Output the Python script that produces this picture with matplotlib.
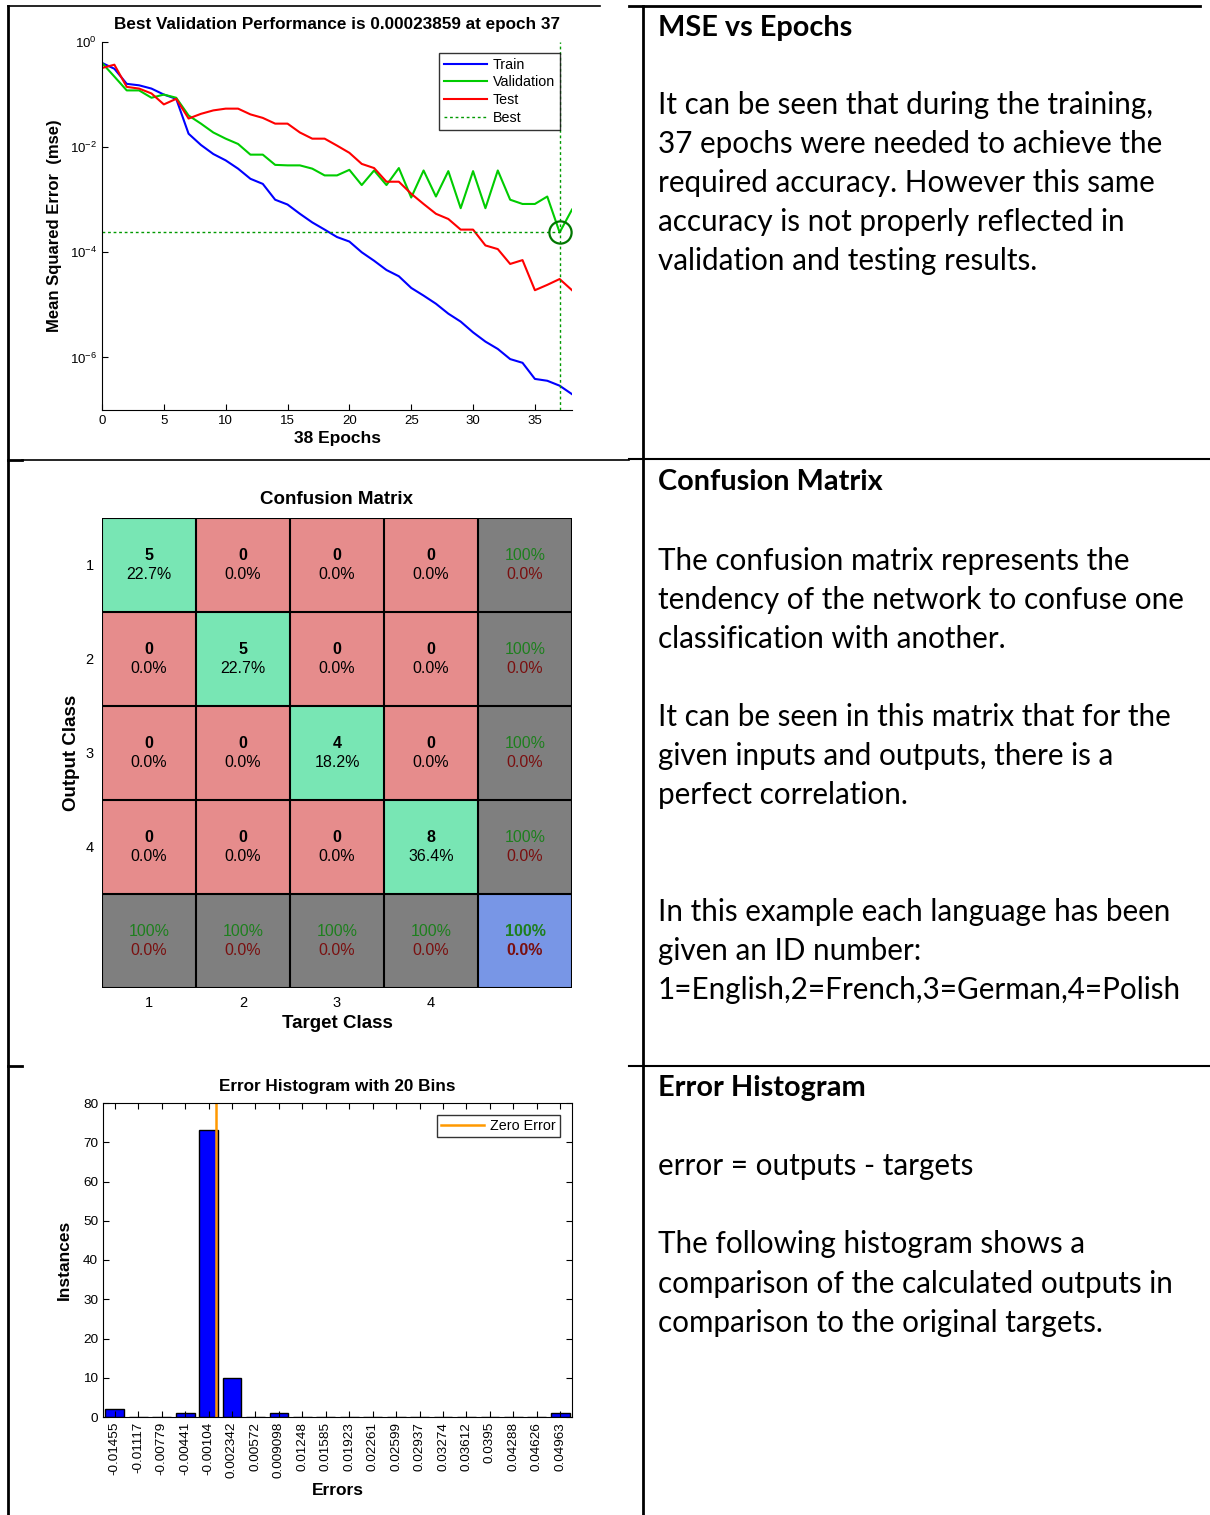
import matplotlib.pyplot as plt
import numpy as np
from matplotlib.lines import Line2D

# ---- data: performance curve (MSE per epoch) ----
epochs = np.arange(39)
train_mse = [0.40, 0.31, 0.16, 0.15, 0.13, 0.10, 0.083, 0.018, 0.011, 0.0074,
             0.0056, 0.0039, 0.0025, 0.0020, 1.0e-3, 8.1e-4, 5.4e-4, 3.7e-4, 2.7e-4, 1.95e-4,
             1.6e-4, 1.0e-4, 6.9e-5, 4.6e-5, 3.5e-5, 2.1e-5, 1.5e-5, 1.05e-5, 6.8e-6, 4.8e-6,
             3.0e-6, 2.0e-6, 1.45e-6, 9.3e-7, 7.9e-7, 3.9e-7, 3.6e-7, 2.9e-7, 2.0e-7]
val_mse = [0.40, 0.22, 0.12, 0.12, 0.087, 0.10, 0.087, 0.040, 0.028, 0.019,
           0.0145, 0.0115, 0.0072, 0.0072, 0.0046, 0.0045, 0.0045, 0.0039, 0.0029, 0.0029,
           0.0037, 0.0019, 0.0036, 0.0019, 0.0040, 0.0011, 0.0036, 0.00115, 0.0035, 0.00069,
           0.0035, 0.00069, 0.0036, 0.0010, 0.00083, 0.00083, 0.00115, 0.00023859, 0.00065]
test_mse = [0.32, 0.37, 0.14, 0.13, 0.105, 0.065, 0.083, 0.035, 0.043, 0.050,
            0.054, 0.054, 0.042, 0.036, 0.028, 0.028, 0.019, 0.0145, 0.0145, 0.0107,
            0.0078, 0.0048, 0.0040, 0.0022, 0.0022, 0.0013, 0.00083, 0.00054, 0.00043, 0.00027,
            0.00027, 0.000135, 0.000115, 6.0e-5, 7.1e-5, 1.9e-5, 2.4e-5, 3.1e-5, 1.9e-5]
best_epoch = 37
best_mse = 0.00023859

# ---- data: confusion matrix ----
classes = ['1', '2', '3', '4']
conf = np.array([[5, 0, 0, 0],
                 [0, 5, 0, 0],
                 [0, 0, 4, 0],
                 [0, 0, 0, 8]])

# ---- data: error histogram ----
bin_labels = ['-0.01455', '-0.01117', '-0.00779', '-0.00441', '-0.00104', '0.002342',
              '0.00572', '0.009098', '0.01248', '0.01585', '0.01923', '0.02261',
              '0.02599', '0.02937', '0.03274', '0.03612', '0.0395', '0.04288',
              '0.04626', '0.04963']
bin_counts = [2, 0, 0, 1, 73, 10, 0, 1, 0, 0, 0, 0, 0, 0, 0, 0, 0, 0, 0, 1]

W, H = 1210, 1515
fig = plt.figure(figsize=(W / 100, H / 100), dpi=100)
plt.rcParams['font.family'] = ['Liberation Sans', 'DejaVu Sans']


def box(l, t, r, b):
    # pixel box (top-left origin) -> figure fraction
    return [l / W, 1 - b / H, (r - l) / W, (b - t) / H]


# ---------- panel 1: performance ----------
ax1 = fig.add_axes(box(102, 42, 572, 410))
ax1.semilogy(epochs, train_mse, color='#0000ff', lw=1.5, label='Train')
ax1.semilogy(epochs, val_mse, color='#00cc00', lw=1.5, label='Validation')
ax1.semilogy(epochs, test_mse, color='#ff0000', lw=1.5, label='Test')
ax1.axhline(best_mse, xmax=best_epoch / 38, color='#009900', ls=(0, (2, 2)), lw=1, label='Best')
ax1.axvline(best_epoch, color='#009900', ls=(0, (2, 2)), lw=1)
ax1.plot(best_epoch, best_mse, 'o', ms=16, mfc='none', mec='#007700', mew=1.6)
ax1.set_xlim(0, 38)
ax1.set_ylim(1e-7, 1)
ax1.set_xticks(np.arange(0, 36, 5))
ax1.set_yticks([1, 1e-2, 1e-4, 1e-6])
ax1.minorticks_off()
ax1.tick_params(direction='in', length=4, labelsize=9.5)
ax1.spines['top'].set_visible(False)
ax1.spines['right'].set_visible(False)
ax1.set_title('Best Validation Performance is 0.00023859 at epoch 37',
              fontsize=12.3, fontweight='bold', pad=9)
ax1.set_xlabel('38 Epochs', fontsize=12.5, fontweight='bold', labelpad=3)
ax1.set_ylabel('Mean Squared Error  (mse)', fontsize=12, fontweight='bold', labelpad=6)
leg = ax1.legend(loc='upper right', bbox_to_anchor=(0.99, 0.99), fontsize=10.3,
                 frameon=True, fancybox=False, edgecolor='black', handlelength=3.0,
                 borderpad=0.35, labelspacing=0.25, handletextpad=0.4)
leg.get_frame().set_linewidth(1)

# ---------- panel 2: confusion matrix ----------
ax2 = fig.add_axes(box(102, 518, 572, 988))
green = np.array([120, 230, 180]) / 255
red = np.array([230, 140, 140]) / 255
gray = np.array([0.5, 0.5, 0.5])
blue = np.array([120, 150, 230]) / 255
n = len(classes)
img = np.zeros((n + 1, n + 1, 3))
for i in range(n + 1):
    for j in range(n + 1):
        if i == n and j == n:
            img[i, j] = blue
        elif i == n or j == n:
            img[i, j] = gray
        elif i == j:
            img[i, j] = green
        else:
            img[i, j] = red
ax2.imshow(img, extent=(-0.5, n + 0.5, n + 0.5, -0.5), aspect='auto')
for k in range(n + 2):
    ax2.axhline(k - 0.5, color='black', lw=1.5)
    ax2.axvline(k - 0.5, color='black', lw=1.5)
total = conf.sum()
fs = 11.5
for i in range(n):
    for j in range(n):
        ax2.text(j, i - 0.105, str(conf[i, j]), ha='center', va='center',
                 fontsize=fs, fontweight='bold')
        ax2.text(j, i + 0.105, '%.1f%%' % (100 * conf[i, j] / total), ha='center',
                 va='center', fontsize=fs)
for i in range(n):
    ok = conf[i, i] / conf[i].sum()
    ax2.text(n, i - 0.105, '%d%%' % (100 * ok), ha='center', va='center', fontsize=fs, color='#1e7f1e')
    ax2.text(n, i + 0.105, '%.1f%%' % (100 * (1 - ok)), ha='center', va='center', fontsize=fs, color='#7a1010')
for j in range(n):
    ok = conf[j, j] / conf[:, j].sum()
    ax2.text(j, n - 0.105, '%d%%' % (100 * ok), ha='center', va='center', fontsize=fs, color='#1e7f1e')
    ax2.text(j, n + 0.105, '%.1f%%' % (100 * (1 - ok)), ha='center', va='center', fontsize=fs, color='#7a1010')
acc = np.trace(conf) / total
ax2.text(n, n - 0.105, '%d%%' % (100 * acc), ha='center', va='center', fontsize=fs,
         fontweight='bold', color='#1e7f1e')
ax2.text(n, n + 0.105, '%.1f%%' % (100 * (1 - acc)), ha='center', va='center', fontsize=fs,
         fontweight='bold', color='#7a1010')
ax2.set_xticks(range(n))
ax2.set_xticklabels(classes)
ax2.set_yticks(range(n))
ax2.set_yticklabels(classes)
ax2.tick_params(length=0, labelsize=10.5, pad=6)
for s in ax2.spines.values():
    s.set_visible(False)
ax2.set_title('Confusion Matrix', fontsize=13.5, fontweight='bold', pad=10)
ax2.set_xlabel('Target Class', fontsize=13.5, fontweight='bold', labelpad=3)
ax2.set_ylabel('Output Class', fontsize=13.5, fontweight='bold', labelpad=4)

# ---------- panel 3: error histogram ----------
ax3 = fig.add_axes(box(103, 1103, 572, 1417))
centers = np.array([float(s) for s in bin_labels])
step = centers[1] - centers[0]
ax3.bar(centers, bin_counts, width=0.8 * step, color='#0000ff', edgecolor='black', lw=1)
ax3.axvline(0, color='#ff9900', lw=1.8, label='Zero Error')
ax3.set_xlim(centers[0] - 0.5 * step, centers[-1] + 0.5 * step)
ax3.set_ylim(0, 80)
ax3.set_yticks(np.arange(0, 81, 10))
ax3.set_xticks(centers)
ax3.set_xticklabels(bin_labels, rotation=90)
ax3.tick_params(direction='in', length=4, labelsize=9.7, top=True, right=True)
ax3.set_title('Error Histogram with 20 Bins', fontsize=12.3, fontweight='bold', pad=9)
ax3.set_xlabel('Errors', fontsize=12.5, fontweight='bold', labelpad=3)
ax3.set_ylabel('Instances', fontsize=12.5, fontweight='bold', labelpad=8)
leg3 = ax3.legend(loc='upper right', bbox_to_anchor=(0.99, 0.985), fontsize=10.3,
                  frameon=True, fancybox=False, edgecolor='black', handlelength=3.0,
                  borderpad=0.3, handletextpad=0.4)
leg3.get_frame().set_linewidth(1)

# ---------- table borders ----------
def hline(y, x0, x1, lw):
    fig.add_artist(Line2D([x0 / W, x1 / W], [1 - y / H, 1 - y / H], color='black', lw=lw))


def vline(x, y0, y1, lw):
    fig.add_artist(Line2D([x / W, x / W], [1 - y0 / H, 1 - y1 / H], color='black', lw=lw))


hline(6, 8, 600, 1.2)
hline(6, 629, 1200, 2)
vline(8, 6, 1515, 2)
vline(643, 6, 1515, 2)
hline(460, 8, 22, 2)
hline(460, 22, 629, 1.2)
hline(459, 629, 1210, 1.5)
hline(1066, 8, 22, 2)
hline(1066, 629, 1210, 1.5)

# ---------- right column text ----------
tfont = ['Lato', 'DejaVu Sans']
body = 21.3


def head(y, s):
    fig.text(658 / W, 1 - y / H, s, fontsize=20.8, fontweight='bold', family=tfont, va='center')


def para(y, s):
    fig.text(658 / W, 1 - y / H, s, fontsize=body, family=tfont, va='center')


head(28, 'MSE vs Epochs')
for y, s in zip([105, 144, 183, 222, 261],
                ['It can be seen that during the training,',
                 '37 epochs were needed to achieve the',
                 'required accuracy. However this same',
                 'accuracy is not properly reflected in',
                 'validation and testing results.']):
    para(y, s)

head(482, 'Confusion Matrix')
for y, s in zip([561, 600, 639, 717, 756, 795, 912, 951, 990],
                ['The confusion matrix represents the',
                 'tendency of the network to confuse one',
                 'classification with another.',
                 'It can be seen in this matrix that for the',
                 'given inputs and outputs, there is a',
                 'perfect correlation.',
                 'In this example each language has been',
                 'given an ID number:',
                 '1=English,2=French,3=German,4=Polish']):
    para(y, s)

head(1088, 'Error Histogram')
for y, s in zip([1166, 1244, 1284, 1323],
                ['error = outputs - targets',
                 'The following histogram shows a',
                 'comparison of the calculated outputs in',
                 'comparison to the original targets.']):
    para(y, s)

fig.savefig('out.png', dpi=100)
